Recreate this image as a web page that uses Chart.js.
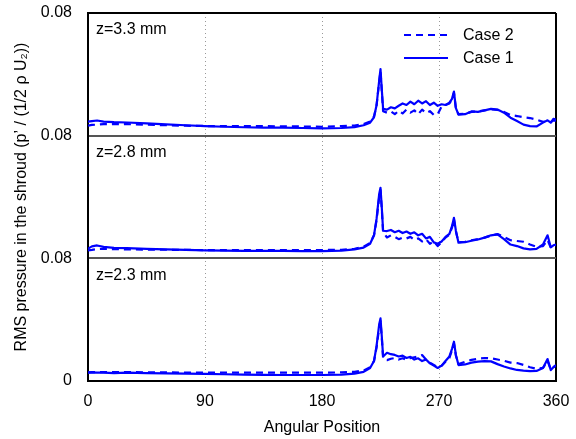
<!DOCTYPE html>
<html>
<head>
<meta charset="utf-8">
<script src="https://cdn.jsdelivr.net/npm/chart.js@4.4.1/dist/chart.umd.min.js"></script>
<style>
  html, body { margin: 0; padding: 0; background: #fff; }
  #wrap { width: 576px; height: 439px; position: relative; }
</style>
</head>
<body>
<div id="wrap"><canvas id="chart"></canvas></div>
<script>
// angular positions (deg), shared by every series
const angles = [0, 3, 7, 12, 20, 30, 45, 60,
  75, 90, 105, 120, 135, 150, 165, 180,
  195, 205, 212, 217, 220, 222, 224, 225,
  226, 227, 230, 233, 236, 239, 242, 245,
  248, 251, 254, 257, 260, 263, 266, 269,
  272, 275, 278, 280, 281.5, 283, 285, 290,
  295, 300, 305, 310, 315, 320, 325, 330,
  335, 340, 345, 350, 353.5, 356, 358, 360];

// z = 3.3 mm
const case1Z33 = [0.0091, 0.0095, 0.0099, 0.0092, 0.0088, 0.0086, 0.0080, 0.0074,
  0.0068, 0.0062, 0.0058, 0.0055, 0.0053, 0.0052, 0.0050, 0.0048,
  0.0050, 0.0056, 0.0068, 0.0085, 0.0120, 0.0200, 0.0360, 0.0434,
  0.0300, 0.0175, 0.0170, 0.0185, 0.0178, 0.0195, 0.0210, 0.0200,
  0.0222, 0.0205, 0.0228, 0.0210, 0.0225, 0.0200, 0.0215, 0.0195,
  0.0205, 0.0200, 0.0215, 0.0240, 0.0288, 0.0180, 0.0137, 0.0140,
  0.0158, 0.0155, 0.0165, 0.0175, 0.0170, 0.0150, 0.0117, 0.0095,
  0.0072, 0.0062, 0.0060, 0.0085, 0.0100, 0.0085, 0.0110, 0.0104];
const case2Z33 = [0.0065, 0.0070, 0.0072, 0.0075, 0.0076, 0.0075, 0.0072, 0.0068,
  0.0065, 0.0063, 0.0062, 0.0062, 0.0062, 0.0061, 0.0060, 0.0058,
  0.0062, 0.0066, 0.0075, 0.0092, 0.0125, 0.0200, 0.0350, 0.0420,
  0.0290, 0.0160, 0.0150, 0.0158, 0.0140, 0.0162, 0.0145, 0.0170,
  0.0150, 0.0165, 0.0140, 0.0170, 0.0148, 0.0160, 0.0135, 0.0140,
  0.0190, 0.0200, 0.0210, 0.0235, 0.0280, 0.0175, 0.0140, 0.0142,
  0.0155, 0.0158, 0.0165, 0.0172, 0.0168, 0.0155, 0.0135, 0.0128,
  0.0120, 0.0115, 0.0105, 0.0090, 0.0095, 0.0088, 0.0100, 0.0098];

// z = 2.8 mm
const case1Z28 = [0.0063, 0.0078, 0.0084, 0.0075, 0.0068, 0.0066, 0.0062, 0.0058,
  0.0055, 0.0052, 0.0050, 0.0049, 0.0048, 0.0048, 0.0047, 0.0047,
  0.0050, 0.0058, 0.0070, 0.0095, 0.0150, 0.0260, 0.0420, 0.0460,
  0.0330, 0.0180, 0.0178, 0.0185, 0.0170, 0.0180, 0.0165, 0.0175,
  0.0160, 0.0170, 0.0150, 0.0160, 0.0130, 0.0140, 0.0104, 0.0095,
  0.0110, 0.0140, 0.0160, 0.0210, 0.0264, 0.0180, 0.0102, 0.0105,
  0.0115, 0.0123, 0.0135, 0.0150, 0.0156, 0.0125, 0.0090, 0.0080,
  0.0065, 0.0058, 0.0062, 0.0090, 0.0150, 0.0072, 0.0085, 0.0090];
const case2Z28 = [0.0052, 0.0055, 0.0060, 0.0062, 0.0060, 0.0058, 0.0057, 0.0056,
  0.0055, 0.0054, 0.0054, 0.0054, 0.0054, 0.0054, 0.0054, 0.0054,
  0.0056, 0.0062, 0.0075, 0.0100, 0.0150, 0.0250, 0.0400, 0.0445,
  0.0320, 0.0170, 0.0136, 0.0150, 0.0140, 0.0125, 0.0135, 0.0130,
  0.0140, 0.0120, 0.0130, 0.0110, 0.0125, 0.0095, 0.0110, 0.0080,
  0.0105, 0.0135, 0.0155, 0.0200, 0.0255, 0.0175, 0.0105, 0.0108,
  0.0118, 0.0125, 0.0135, 0.0148, 0.0158, 0.0140, 0.0118, 0.0113,
  0.0108, 0.0090, 0.0075, 0.0080, 0.0120, 0.0070, 0.0080, 0.0085];

// z = 2.3 mm
const case1Z23 = [0.0054, 0.0056, 0.0055, 0.0054, 0.0052, 0.0054, 0.0052, 0.0050,
  0.0048, 0.0046, 0.0044, 0.0042, 0.0040, 0.0039, 0.0039, 0.0039,
  0.0042, 0.0048, 0.0060, 0.0085, 0.0130, 0.0230, 0.0370, 0.0408,
  0.0290, 0.0160, 0.0184, 0.0175, 0.0170, 0.0160, 0.0165, 0.0150,
  0.0158, 0.0140, 0.0148, 0.0130, 0.0140, 0.0115, 0.0100, 0.0085,
  0.0100, 0.0130, 0.0160, 0.0210, 0.0256, 0.0170, 0.0104, 0.0108,
  0.0120, 0.0126, 0.0130, 0.0128, 0.0110, 0.0095, 0.0082, 0.0072,
  0.0068, 0.0065, 0.0066, 0.0085, 0.0143, 0.0071, 0.0090, 0.0104];
const case2Z23 = [0.0056, 0.0058, 0.0057, 0.0058, 0.0058, 0.0058, 0.0057, 0.0056,
  0.0055, 0.0055, 0.0055, 0.0054, 0.0054, 0.0054, 0.0054, 0.0054,
  0.0056, 0.0060, 0.0068, 0.0090, 0.0130, 0.0220, 0.0350, 0.0390,
  0.0280, 0.0150, 0.0136, 0.0145, 0.0150, 0.0140, 0.0148, 0.0138,
  0.0150, 0.0155, 0.0160, 0.0169, 0.0140, 0.0120, 0.0105, 0.0090,
  0.0100, 0.0125, 0.0150, 0.0200, 0.0245, 0.0165, 0.0110, 0.0125,
  0.0138, 0.0145, 0.0150, 0.0148, 0.0140, 0.0132, 0.0120, 0.0117,
  0.0105, 0.0090, 0.0080, 0.0085, 0.0130, 0.0075, 0.0090, 0.0100];

const panelLabels = ["z=3.3 mm", "z=2.8 mm", "z=2.3 mm"];
const panelIds = ["yTop", "yMid", "yBot"];
const xTicks = [0, 90, 180, 270, 360];
const yTicks = [0, 0.08];
const legendNames = ["Case 2", "Case 1"];

const BLUE = "#0000ff";
const DASH = [7, 5];
const FONT = '"Liberation Sans", Arial, Helvetica, sans-serif';
const FS = 16;

Chart.defaults.font.family = FONT;
Chart.defaults.font.size = FS;
Chart.defaults.color = "#000";

function points(values) {
  return angles.map((a, i) => ({ x: a, y: values[i] }));
}

const panelSeries = [
  [case1Z33, case2Z33],
  [case1Z28, case2Z28],
  [case1Z23, case2Z23]
];

const datasets = [];
panelSeries.forEach(([c1, c2], i) => {
  datasets.push({
    label: "Case 1",
    data: points(c1),
    yAxisID: panelIds[i],
    borderColor: BLUE,
    borderWidth: 2.2
  });
  datasets.push({
    label: "Case 2",
    data: points(c2),
    yAxisID: panelIds[i],
    borderColor: BLUE,
    borderWidth: 2.2,
    borderDash: DASH
  });
});

function panelAxis(idx) {
  return {
    type: "linear",
    position: "left",
    stack: "panels",
    stackWeight: 1,
    weight: 3 - idx,
    min: 0,
    max: 0.08,
    afterBuildTicks: (s) => { s.ticks = yTicks.map((v) => ({ value: v })); },
    afterFit: (s) => {
      s.width = 88;
      s.paddingTop = 0;
      s.paddingBottom = 0;
    },
    ticks: {
      padding: 16,
      callback: (v) => (v === 0 ? (idx === 2 ? "0" : "") : "0.08")
    },
    grid: {
      drawTicks: false,
      lineWidth: 2,
      color: (ctx) => {
        if (!ctx.tick || ctx.tick.value === 0) return "rgba(0,0,0,0)";
        return idx === 0 ? "#000" : "#555";
      }
    },
    border: { display: true, color: "#000", width: 2 },
    title: {
      display: idx === 1,
      text: "RMS pressure in the shroud (p\u2019 / (1/2 \u03c1 U\u2082))",
      padding: { top: 12, bottom: 0 }
    }
  };
}

const isEdge = (ctx) => ctx.tick && (ctx.tick.value === 0 || ctx.tick.value === 360);

// panel captions + legend drawn inside the plot area
const annotate = {
  id: "annotate",
  afterDatasetsDraw(chart) {
    const { ctx, chartArea } = chart;
    ctx.save();
    ctx.font = FS + "px " + FONT;
    ctx.fillStyle = "#000";
    ctx.textBaseline = "middle";
    panelIds.forEach((id, i) => {
      ctx.fillText(panelLabels[i], chartArea.left + 8, chart.scales[id].top + 17);
    });
    const top = chart.scales.yTop.top;
    legendNames.forEach((name, i) => {
      const y = top + 22 + i * 23;
      ctx.beginPath();
      ctx.strokeStyle = BLUE;
      ctx.lineWidth = 2.2;
      ctx.setLineDash(name === "Case 2" ? DASH : []);
      ctx.moveTo(chartArea.right - 152, y);
      ctx.lineTo(chartArea.right - 108, y);
      ctx.stroke();
      ctx.setLineDash([]);
      ctx.fillText(name, chartArea.right - 93, y + 1);
    });
    ctx.restore();
  }
};

new Chart(document.getElementById("chart"), {
  type: "line",
  data: { datasets },
  plugins: [annotate],
  options: {
    responsive: true,
    maintainAspectRatio: false,
    animation: false,
    layout: { padding: { top: 13, right: 20, left: 0, bottom: 0 } },
    elements: {
      point: { radius: 0 },
      line: { tension: 0, borderJoinStyle: "round" }
    },
    plugins: {
      legend: { display: false },
      tooltip: { enabled: false }
    },
    scales: {
      x: {
        type: "linear",
        position: "bottom",
        min: 0,
        max: 360,
        afterBuildTicks: (s) => { s.ticks = xTicks.map((v) => ({ value: v })); },
        afterFit: (s) => {
          s.height = 58;
          s.paddingLeft = 0;
          s.paddingRight = 0;
        },
        ticks: { padding: 11, maxRotation: 0 },
        grid: {
          drawTicks: false,
          color: (ctx) => (isEdge(ctx) ? "#000" : "#999"),
          lineWidth: (ctx) => (isEdge(ctx) ? 2 : 1)
        },
        border: {
          display: true,
          color: "#000",
          width: 2,
          dash: (ctx) => (ctx.tick && !isEdge(ctx) ? [1, 3] : [])
        },
        title: {
          display: true,
          text: "Angular Position",
          padding: { top: 0, bottom: 2 }
        }
      },
      yTop: panelAxis(0),
      yMid: panelAxis(1),
      yBot: panelAxis(2)
    }
  }
});
</script>
</body>
</html>
